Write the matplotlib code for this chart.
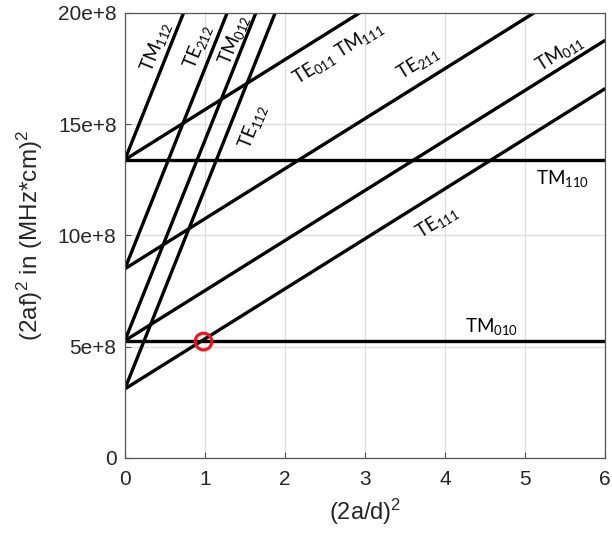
import numpy as np
import matplotlib.pyplot as plt
from matplotlib.ticker import FixedLocator, FuncFormatter

# mode lines: (2af)^2 = intercept + slope * (2a/d)^2
modes = ["TM010", "TM110", "TE111", "TM011", "TE211", "TE011/TM111",
         "TE112", "TM012", "TE212", "TM112"]
intercepts = [5.27e8, 13.4e8, 3.1e8, 5.27e8, 8.5e8, 13.4e8,
              3.1e8, 5.27e8, 8.5e8, 13.4e8]
slopes = [0, 0, 2.25e8, 2.25e8, 2.25e8, 2.25e8,
          9e8, 9e8, 9e8, 9e8]

# marked operating point (TE111 crossing TM010)
mark_x = 0.97
mark_y = 5.27e8

x_ticks = [0, 1, 2, 3, 4, 5, 6]
y_ticks = [0, 5e8, 10e8, 15e8, 20e8]

plt.rcParams['font.family'] = ['Liberation Sans', 'DejaVu Sans']
plt.rcParams['mathtext.default'] = 'regular'

fig = plt.figure(figsize=(6.12, 5.35), dpi=100)
ax = fig.add_axes([0.204, 0.144, 0.785, 0.832])

xs = np.array([0, 6])
for b, m in zip(intercepts, slopes):
    ax.plot(xs, b + m * xs, color='black', lw=2.4, solid_capstyle='butt')

ax.plot([mark_x], [mark_y], 'o', ms=12, mfc='none', mec='#e8191c', mew=2.3)

ax.set_xlim(0, 6)
ax.set_ylim(0, 20e8)
ax.xaxis.set_major_locator(FixedLocator(x_ticks))
ax.yaxis.set_major_locator(FixedLocator(y_ticks))
ax.yaxis.set_major_formatter(FuncFormatter(
    lambda v, p: '0' if v == 0 else '%de+8' % round(v / 1e8)))
ax.tick_params(direction='in', length=4, width=0.8, color='#555555',
               labelsize=15, labelcolor='#262626', pad=6)
ax.tick_params(axis='x', pad=9)
ax.grid(True, color='#dddddd', lw=0.9)
ax.set_axisbelow(True)
for s in ax.spines.values():
    s.set_color('#555555')
    s.set_linewidth(0.9)

ax.set_xlabel('(2a/d)$^2$', fontsize=17, color='#262626', labelpad=5)
ax.set_ylabel('(2af)$^2$ in (MHz*cm)$^2$', fontsize=17.5, color='#262626',
              labelpad=9)

# mode labels
lab = dict(fontsize=13.5, family=['Lato', 'DejaVu Sans'], color='black',
           ha='center', va='center', rotation_mode='anchor')
ax.text(0.39, 18.5e8, 'TM$_{112}$', rotation=68, **lab)
ax.text(0.91, 18.5e8, 'TE$_{212}$', rotation=68, **lab)
ax.text(1.36, 18.8e8, 'TM$_{012}$', rotation=68, **lab)
ax.text(1.6, 14.9e8, 'TE$_{112}$', rotation=68, **lab)
ax.text(2.66, 18.2e8, 'TE$_{011}$ TM$_{111}$', rotation=32, **lab)
ax.text(3.66, 17.75e8, 'TE$_{211}$', rotation=32, **lab)
ax.text(5.43, 18.2e8, 'TM$_{011}$', rotation=32, **lab)
ax.text(5.47, 12.55e8, 'TM$_{110}$', rotation=0, **lab)
ax.text(3.9, 10.6e8, 'TE$_{111}$', rotation=32, **lab)
ax.text(4.58, 5.9e8, 'TM$_{010}$', rotation=0, **lab)

fig.savefig('out.png', dpi=100)
